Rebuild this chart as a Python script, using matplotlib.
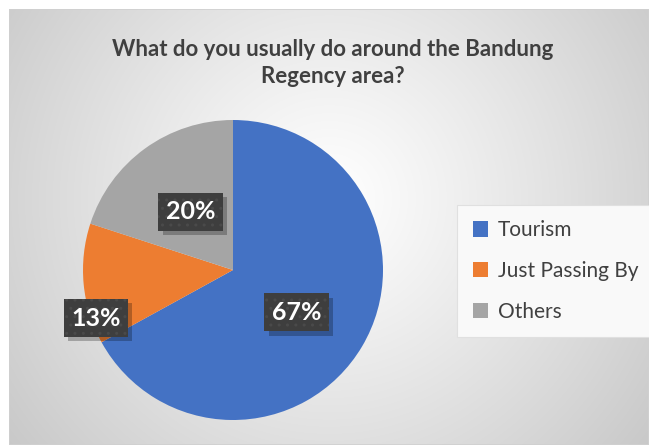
import numpy as np
import matplotlib
matplotlib.use("Agg")
import matplotlib.pyplot as plt
from matplotlib import patheffects

# chart data
categories = ["Tourism", "Just Passing By", "Others"]
shares = [67, 13, 20]
colors = ["#4472C4", "#ED7D31", "#A5A5A5"]
title = "What do you usually do around the Bandung\nRegency area?"


class PlainShadow(patheffects.SimplePatchShadow):
    # shadow of the label box, without the dotted hatch
    def draw_path(self, renderer, gc, tpath, affine, rgbFace):
        gc2 = renderer.new_gc()
        gc2.copy_properties(gc)
        gc2.set_hatch(None)
        super().draw_path(renderer, gc2, tpath, affine, rgbFace)


W, H = 649, 445
fig = plt.figure(figsize=(W / 100, H / 100), dpi=100)
fig.patch.set_facecolor("white")

# radial gradient background of the chart area
bg = fig.add_axes([9 / W, 0, (W - 9) / W, (H - 9) / H])
yy, xx = np.mgrid[0:436, 0:640]
cx, cy = 320, 190
d = np.hypot(xx - cx, yy - cy) / np.hypot(330, 250)
shade = 1.0 - 0.22 * np.clip(d, 0, 1.2) ** 1.1
img = np.dstack([shade] * 3)
bg.imshow(img, aspect="auto", extent=[0, 1, 0, 1], origin="upper")
bg.set_axis_off()
bg.add_patch(plt.Rectangle((0, 0), 1, 1, transform=bg.transAxes, fill=False,
                           ec="#d0d0d0", lw=1.2))

fig.text(333 / W, 1 - 63 / H, title, ha="center", va="center",
         fontsize=16, fontweight="bold", family="Lato", color="#404040",
         linespacing=1.35)

# pie
ax = fig.add_axes([(233 - 150) / W, (H - 270 - 150) / H, 300 / W, 300 / H])
wedges, _ = ax.pie(shares, colors=colors, startangle=90, counterclock=False,
                   radius=1.0, wedgeprops=dict(linewidth=0))
ax.set_xlim(-1, 1)
ax.set_ylim(-1, 1)
ax.set_aspect("equal")
ax.set_axis_off()

label_r = [0.51, 0.97, 0.48]
label_shift = [-3, 14, 0]
for w, val, r, sh in zip(wedges, shares, label_r, label_shift):
    ang = np.deg2rad((w.theta1 + w.theta2) / 2 + sh)
    x, y = r * np.cos(ang), r * np.sin(ang)
    t = ax.text(x, y, f"{val}%", ha="center", va="center",
                fontsize=18, fontweight="bold", family="Lato", color="white",
                bbox=dict(boxstyle="square,pad=0.3", fc="#3e3e3e", ec="#4a4a4a",
                          lw=0, hatch=".."))
    t.get_bbox_patch().set_path_effects([
        PlainShadow(offset=(3, -3), shadow_rgbFace="black", alpha=0.25),
        patheffects.Normal()])

leg = fig.legend(wedges, categories, loc="center left",
                 bbox_to_anchor=(457 / W, 1 - 271 / H),
                 prop=dict(family="Lato", size=15), labelcolor="#404040",
                 handlelength=0.75, handleheight=0.75, handletextpad=0.45,
                 labelspacing=1.0, borderpad=0.75, borderaxespad=0,
                 frameon=True, fancybox=False, edgecolor="#e0e0e0",
                 facecolor="#f9f9f9", framealpha=1)
leg.get_frame().set_linewidth(0.8)

fig.savefig("out.png", dpi=100)
